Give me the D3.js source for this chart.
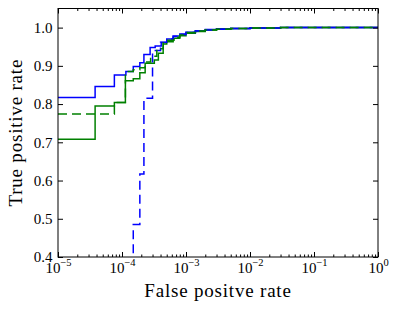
<!DOCTYPE html>
<html>
<head>
	<meta charset="utf-8">
	<title>ROC curves</title>
	<script src="https://cdnjs.cloudflare.com/ajax/libs/d3/7.8.5/d3.min.js"></script>
	<style>
		body { margin: 0; background: #fff; }
		svg { display: block; font-family: "Liberation Serif", serif; }
		.tick line { stroke: #000; }
	</style>
</head>
<body>
<div id="chart"></div>
<script>
// ---- data ----
var blueSolidFpr = [1e-5, 3.8e-5, 7.6e-5, 1.15e-4, 1.5e-4, 1.9e-4, 2.2e-4, 2.75e-4, 3.3e-4, 4.1e-4, 5.0e-4, 6.3e-4, 8e-4, 1e-3, 1.4e-3, 2e-3, 3e-3, 5e-3, 1e-2, 3e-2, 1];
var blueSolidTpr = [0.817, 0.846, 0.876, 0.885, 0.898, 0.908, 0.930, 0.948, 0.952, 0.961, 0.970, 0.978, 0.983, 0.988, 0.992, 0.995, 0.997, 0.998, 0.999, 1.0, 1.0];

var greenSolidFpr = [1e-5, 3.8e-5, 7.6e-5, 1.13e-4, 1.5e-4, 1.9e-4, 2.3e-4, 3.2e-4, 3.7e-4, 4.4e-4, 5.0e-4, 6.3e-4, 8e-4, 1e-3, 1.4e-3, 2e-3, 3e-3, 5e-3, 1e-2, 3e-2, 1];
var greenSolidTpr = [0.708, 0.795, 0.804, 0.861, 0.866, 0.882, 0.907, 0.915, 0.933, 0.957, 0.963, 0.972, 0.979, 0.985, 0.990, 0.994, 0.996, 0.998, 0.999, 1.0, 1.0];

var blueDashFpr = [1.5e-4, 1.5e-4, 1.9e-4, 2.2e-4, 3.0e-4, 4.0e-4, 5.0e-4, 6.3e-4, 8e-4, 1e-3, 1.4e-3, 2e-3, 3e-3, 5e-3, 1e-2, 3e-2, 1];
var blueDashTpr = [0.3, 0.485, 0.617, 0.815, 0.94, 0.962, 0.970, 0.977, 0.982, 0.987, 0.991, 0.994, 0.996, 0.998, 0.999, 1.0, 1.0];

var greenDashFpr = [1e-5, 7.6e-5, 1.13e-4, 1.5e-4, 1.9e-4, 2.3e-4, 2.8e-4, 3.5e-4, 4.4e-4, 5.2e-4, 6.5e-4, 8e-4, 1e-3, 1.4e-3, 2e-3, 3e-3, 5e-3, 1e-2, 3e-2, 1];
var greenDashTpr = [0.774, 0.804, 0.885, 0.890, 0.895, 0.910, 0.925, 0.945, 0.960, 0.967, 0.975, 0.981, 0.987, 0.991, 0.994, 0.996, 0.998, 0.999, 1.0, 1.0];

var xMajor = [1e-5, 1e-4, 1e-3, 1e-2, 1e-1, 1];
var xExponents = ["\u22125", "\u22124", "\u22123", "\u22122", "\u22121", "0"];
var yTicks = [0.4, 0.5, 0.6, 0.7, 0.8, 0.9, 1.0];

// ---- layout ----
var width = 399, height = 311;
var plotLeft = 58, plotRight = 378, plotTop = 8.5, plotBottom = 257;

var svg = d3.select("#chart").append("svg")
	.attr("width", width)
	.attr("height", height);

var x = d3.scaleLog().domain([1e-5, 1]).range([plotLeft, plotRight]);
var y = d3.scaleLinear().domain([0.4, 1.05]).range([plotBottom, plotTop]);

// minor ticks 2..9 per decade
var xMinor = [];
for (var e = -5; e < 0; e++) {
	for (var m = 2; m <= 9; m++) xMinor.push(m * Math.pow(10, e));
}

svg.append("clipPath").attr("id", "plotClip")
	.append("rect")
	.attr("x", plotLeft).attr("y", plotTop)
	.attr("width", plotRight - plotLeft).attr("height", plotBottom - plotTop);

var line = d3.line()
	.x(function(d) { return x(d[0]); })
	.y(function(d) { return y(d[1]); })
	.curve(d3.curveStepAfter);

var series = [
	{ fpr: blueSolidFpr, tpr: blueSolidTpr, color: "#0000ff", dash: null },
	{ fpr: greenSolidFpr, tpr: greenSolidTpr, color: "#008000", dash: null },
	{ fpr: blueDashFpr, tpr: blueDashTpr, color: "#0000ff", dash: "9,5" },
	{ fpr: greenDashFpr, tpr: greenDashTpr, color: "#008000", dash: "9,5" }
];

var plot = svg.append("g").attr("clip-path", "url(#plotClip)");
series.forEach(function(s) {
	var pts = s.fpr.map(function(f, i) { return [f, s.tpr[i]]; });
	plot.append("path")
		.datum(pts)
		.attr("d", line)
		.attr("fill", "none")
		.attr("stroke", s.color)
		.attr("stroke-width", 1.5)
		.attr("stroke-dasharray", s.dash);
});

// ---- axes (ticks point inward) ----
function noDomain(g) { g.select(".domain").remove(); }

svg.append("g")
	.attr("transform", "translate(0," + plotBottom + ")")
	.call(d3.axisBottom(x).tickValues(xMinor).tickSize(-2.5).tickFormat(""))
	.call(noDomain);
svg.append("g")
	.attr("transform", "translate(0," + plotTop + ")")
	.call(d3.axisTop(x).tickValues(xMinor).tickSize(-2.5).tickFormat(""))
	.call(noDomain);
svg.append("g")
	.attr("transform", "translate(0," + plotTop + ")")
	.call(d3.axisTop(x).tickValues(xMajor).tickSize(-5).tickFormat(""))
	.call(noDomain);

var xAxis = svg.append("g")
	.attr("transform", "translate(0," + plotBottom + ")")
	.call(d3.axisBottom(x).tickValues(xMajor).tickSize(-5).tickPadding(5.5))
	.call(noDomain);
xAxis.selectAll(".tick text")
	.text(null)
	.attr("fill", "#000")
	.attr("font-family", "Liberation Serif, serif")
	.attr("font-size", 15)
	.each(function(d, i) {
		var t = d3.select(this);
		t.append("tspan").text("10");
		t.append("tspan").attr("dy", "-7.5px").attr("font-size", "10.5px").text(xExponents[i]);
	});

var yAxis = svg.append("g")
	.attr("transform", "translate(" + plotLeft + ",0)")
	.call(d3.axisLeft(y).tickValues(yTicks).tickSize(-5).tickPadding(5.5).tickFormat(d3.format(".1f")))
	.call(noDomain);
yAxis.selectAll(".tick text")
	.attr("fill", "#000")
	.attr("font-family", "Liberation Serif, serif")
	.attr("font-size", 15);
svg.append("g")
	.attr("transform", "translate(" + plotRight + ",0)")
	.call(d3.axisRight(y).tickValues(yTicks).tickSize(-5).tickFormat(""))
	.call(noDomain);

// frame
svg.append("rect")
	.attr("x", plotLeft).attr("y", plotTop)
	.attr("width", plotRight - plotLeft).attr("height", plotBottom - plotTop)
	.attr("fill", "none")
	.attr("stroke", "#000")
	.attr("stroke-width", 1);

// axis labels
svg.append("text")
	.attr("x", (plotLeft + plotRight) / 2)
	.attr("y", 297)
	.attr("text-anchor", "middle")
	.attr("font-size", 19)
	.attr("letter-spacing", 0.8)
	.text("False positve rate");

svg.append("text")
	.attr("transform", "translate(21.5," + ((plotTop + plotBottom) / 2) + ") rotate(-90)")
	.attr("text-anchor", "middle")
	.attr("font-size", 19)
	.attr("letter-spacing", 0.8)
	.text("True positive rate");
</script>
</body>
</html>
